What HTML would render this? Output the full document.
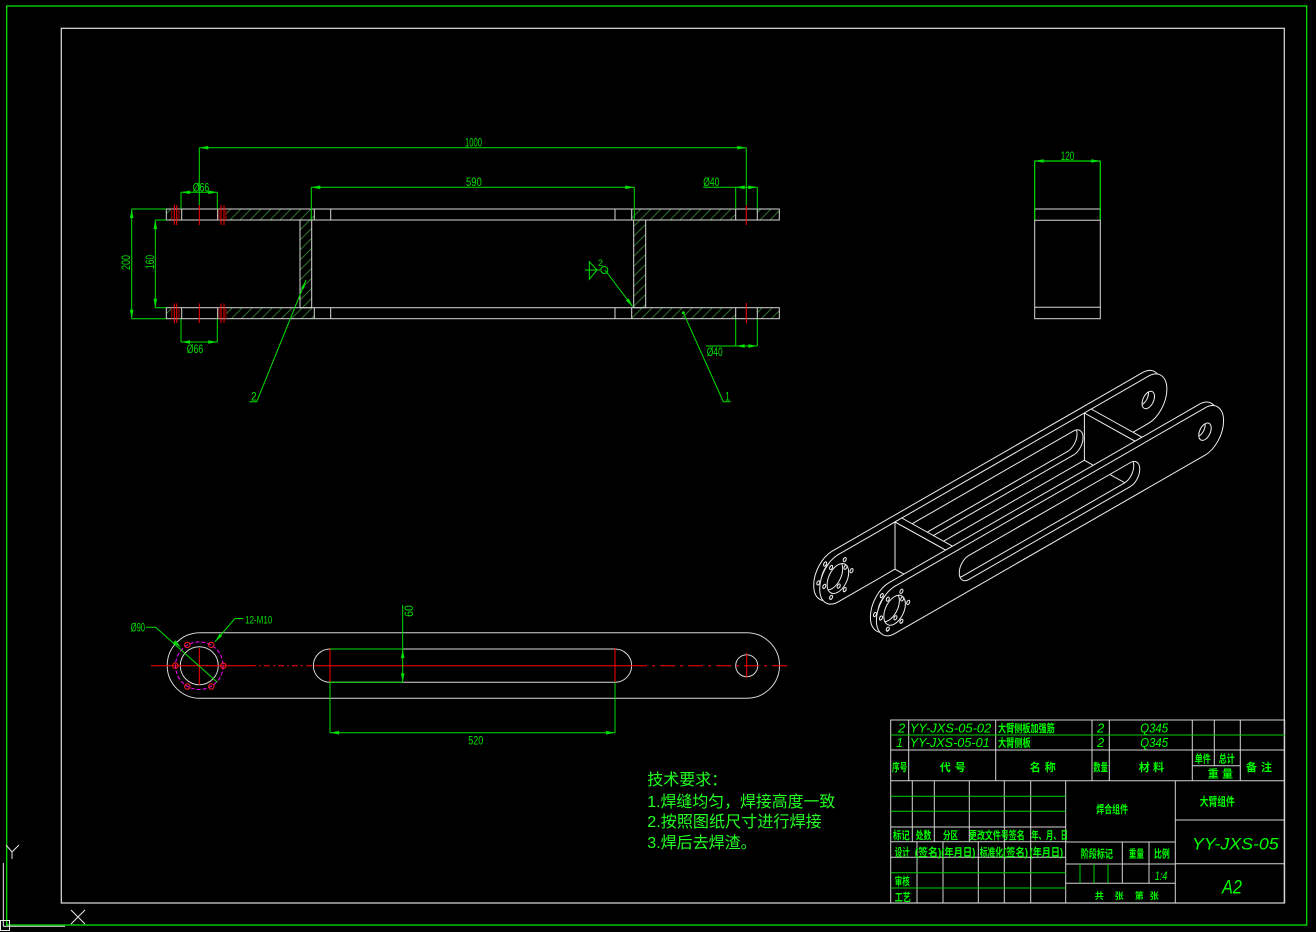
<!DOCTYPE html>
<html><head><meta charset="utf-8"><style>html,body{margin:0;padding:0;background:#000;}svg{display:block;}</style></head>
<body>
<svg width="1316" height="932" viewBox="0 0 1316 932" xmlns="http://www.w3.org/2000/svg" style="font-family:'Liberation Sans','Noto Sans CJK SC',sans-serif;">
<defs>
<pattern id="h" patternUnits="userSpaceOnUse" width="10" height="10">
<path d="M0,10 L10,0 M-2,2 L2,-2 M8,12 L12,8" stroke="#2f6f2f" stroke-width="1"/>
</pattern>
<path id="arm" fill="#000" fill-rule="evenodd" stroke="#eee" stroke-width="1" vector-effect="non-scaling-stroke" d="M200,632.7 H746.7 A32.8,32.8 0 0 1 746.7,698.3 H200 A32.8,32.8 0 0 1 200,632.7 Z M330,649 H615 A16.65,16.65 0 0 1 615,682.3 H330 A16.65,16.65 0 0 1 330,649 Z M180.3,665.7 A19,19 0 1 0 218.3,665.7 A19,19 0 1 0 180.3,665.7 Z M735.7,665.7 A11,11 0 1 0 757.7,665.7 A11,11 0 1 0 735.7,665.7 Z M172.6,665.7 A2.7,2.7 0 1 0 178,665.7 A2.7,2.7 0 1 0 172.6,665.7 Z M220.6,665.7 A2.7,2.7 0 1 0 226,665.7 A2.7,2.7 0 1 0 220.6,665.7 Z M184.6,644.9 A2.7,2.7 0 1 0 190,644.9 A2.7,2.7 0 1 0 184.6,644.9 Z M208.6,644.9 A2.7,2.7 0 1 0 214,644.9 A2.7,2.7 0 1 0 208.6,644.9 Z M184.6,686.5 A2.7,2.7 0 1 0 190,686.5 A2.7,2.7 0 1 0 184.6,686.5 Z M208.6,686.5 A2.7,2.7 0 1 0 214,686.5 A2.7,2.7 0 1 0 208.6,686.5 Z"/>
</defs>
<rect width="1316" height="932" fill="#000"/>

<!-- frames -->
<rect x="6.7" y="6" width="1300" height="919" fill="none" stroke="#00e000" stroke-width="1.3"/>
<rect x="61.3" y="28.3" width="1223" height="874.7" fill="none" stroke="#e0e0e0" stroke-width="1.2"/>

<!-- UCS icon -->
<g stroke="#e8e8e8" stroke-width="1" fill="none">
<line x1="3.3" y1="863" x2="3.3" y2="926"/>
<line x1="3" y1="926.3" x2="65" y2="926.3"/>
<rect x="0.5" y="920.5" width="9" height="10"/>
<path d="M6,845 L12,852 L19,845 M12,852 L12,859"/>
<path d="M71,910 L85,924 M85,910 L71,924"/>
</g>

<!-- ===== TOP VIEW ===== -->
<!-- hatch -->
<g fill="url(#h)">
<rect x="166.3" y="209" width="5" height="11"/>
<rect x="226" y="209" width="88.3" height="11"/>
<rect x="631.7" y="209" width="104" height="11"/>
<rect x="757.3" y="209" width="22" height="11"/>
<rect x="166.3" y="307.7" width="5" height="11"/>
<rect x="226" y="307.7" width="88.3" height="11"/>
<rect x="631.7" y="307.7" width="104" height="11"/>
<rect x="757.3" y="307.7" width="22" height="11"/>
<rect x="300" y="220" width="11.7" height="87.7"/>
<rect x="633.7" y="220" width="12" height="87.7"/>
</g>
<g stroke="#d8d8d8" stroke-width="1" fill="none">
<rect x="166.3" y="209" width="613" height="11"/>
<rect x="166.3" y="307.7" width="613" height="11"/>
<path d="M181.7,209V220M217.7,209V220M314.3,209V220M330.7,209V220M615,209V220M631.7,209V220M735.7,209V220M757.3,209V220"/>
<path d="M181.7,307.7V318.7M217.7,307.7V318.7M314.3,307.7V318.7M330.7,307.7V318.7M615,307.7V318.7M631.7,307.7V318.7M735.7,307.7V318.7M757.3,307.7V318.7"/>
<rect x="300" y="220" width="11.7" height="87.7"/>
<rect x="633.7" y="220" width="12" height="87.7"/>
</g>
<!-- red thread / center lines -->
<g stroke="#ff0000" stroke-width="1">
<path d="M174.3,205V225M176.7,205V225M199.3,205V225M221,205V225M224,205V225M746.3,205V225"/>
<path d="M174.3,303.5V323M176.7,303.5V323M199.3,303.5V323M221,303.5V323M224,303.5V323M746.3,303V323"/>
</g>
<g stroke="#a00000" stroke-width="1">
<path d="M171.7,209V220M179,209V220M219,209V220M226,209V220M171.7,307.7V318.7M179,307.7V318.7M219,307.7V318.7M226,307.7V318.7"/>
</g>
<!-- dims top view -->
<g stroke="#00e000" stroke-width="1" fill="none">
<path d="M199.3,147.7H746.3M199.3,147.7V205M746.3,147.7V205"/>
<path d="M311.3,187.3H634.3M311.3,187.3V220M634.3,187.3V220"/>
<path d="M181,192.3H217.3M181,192.3V209M217.3,192.3V209"/>
<path d="M703.3,187.3H757.3M735.7,187.3V209M757.3,187.3V209"/>
<path d="M706,346H757.3M735.7,318.7V346M757.3,318.7V346"/>
<path d="M181,342H217.3M181,318.7V342M217.3,318.7V342"/>
<path d="M131.7,209V318.7M131.7,209H166.3M131.7,318.7H166.3"/>
<path d="M155.3,220V307.7M155.3,220H166.3M155.3,307.7H166.3"/>
<path d="M306,280L256.7,401.7H249.3"/>
<path d="M683.3,312.7L723.3,401.7H730.7"/>
<path d="M585,270H600M589.3,261.7L597,270L589.3,279.3Z"/>
<circle cx="604.3" cy="270" r="3.5"/>
<path d="M605,270L632.7,306.7"/>
</g>
<g fill="#00e000">
<polygon points="199.3,147.7 208.3,145.9 208.3,149.5"/>
<polygon points="746.3,147.7 737.3,145.9 737.3,149.5"/>
<polygon points="311.3,187.3 320.3,185.5 320.3,189.1"/>
<polygon points="634.3,187.3 625.3,185.5 625.3,189.1"/>
<polygon points="181,192.3 190,190.5 190,194.1"/>
<polygon points="217.3,192.3 208.3,190.5 208.3,194.1"/>
<polygon points="735.7,187.3 744.7,185.5 744.7,189.1"/>
<polygon points="757.3,187.3 748.3,185.5 748.3,189.1"/>
<polygon points="735.7,346 744.7,344.2 744.7,347.8"/>
<polygon points="757.3,346 748.3,344.2 748.3,347.8"/>
<polygon points="181,342 190,340.2 190,343.8"/>
<polygon points="217.3,342 208.3,340.2 208.3,343.8"/>
<polygon points="131.7,209 129.9,218 133.5,218"/>
<polygon points="131.7,318.7 129.9,309.7 133.5,309.7"/>
<polygon points="155.3,220 153.5,229 157.1,229"/>
<polygon points="155.3,307.7 153.5,298.7 157.1,298.7"/>
<polygon points="306,280 304,288.9 301.2,287.7"/>
<circle cx="683.3" cy="312.7" r="1.5"/>
<polygon points="632.7,306.7 625.9,300.6 628.7,298.4"/>
</g>
<g fill="#00e000" font-size="11.5">
<text x="465" y="146.5" textLength="17" lengthAdjust="spacingAndGlyphs">1000</text>
<text x="466" y="186" textLength="15.7" lengthAdjust="spacingAndGlyphs">590</text>
<text x="192.7" y="191.5" textLength="16.6" lengthAdjust="spacingAndGlyphs">Ø66</text>
<text x="186.7" y="353" textLength="16.6" lengthAdjust="spacingAndGlyphs">Ø66</text>
<text x="703.3" y="186" textLength="16" lengthAdjust="spacingAndGlyphs">Ø40</text>
<text x="706.7" y="356" textLength="16" lengthAdjust="spacingAndGlyphs">Ø40</text>
<text transform="translate(130,262.5) rotate(-90)" text-anchor="middle" textLength="15" lengthAdjust="spacingAndGlyphs">200</text>
<text transform="translate(154,262) rotate(-90)" text-anchor="middle" textLength="14.3" lengthAdjust="spacingAndGlyphs">160</text>
<text x="251" y="400.7" textLength="5.7" lengthAdjust="spacingAndGlyphs">2</text>
<text x="725" y="400.7" textLength="5" lengthAdjust="spacingAndGlyphs">1</text>
<text x="598" y="266" font-size="9">2</text>
<text x="1060.7" y="160" textLength="13.6" lengthAdjust="spacingAndGlyphs">120</text>
</g>

<!-- ===== SIDE VIEW ===== -->
<g stroke="#d8d8d8" stroke-width="1" fill="none">
<rect x="1034.7" y="209" width="65.6" height="109.7"/>
<path d="M1034.7,220.3H1100.3M1034.7,307.3H1100.3"/>
</g>
<g stroke="#00e000" stroke-width="1.2" fill="none">
<path d="M1034.7,161H1100.3M1034.7,161V220M1100.3,161V220"/>
</g>
<g fill="#00e000">
<polygon points="1034.7,161 1043.7,159.2 1043.7,162.8"/>
<polygon points="1100.3,161 1091.3,159.2 1091.3,162.8"/>
</g>

<!-- ===== BOTTOM (FRONT) VIEW ===== -->
<g stroke="#d8d8d8" stroke-width="1" fill="none">
<path d="M200,632.7 H746.7 A32.8,32.8 0 0 1 746.7,698.3 H200 A32.8,32.8 0 0 1 200,632.7 Z"/>
<path d="M330,649 H615 A16.65,16.65 0 0 1 615,682.3 H330 A16.65,16.65 0 0 1 330,649 Z"/>
<circle cx="199.3" cy="665.7" r="19"/>
<circle cx="746.7" cy="665.7" r="11"/>
</g>
<circle cx="199.3" cy="665.7" r="23.8" fill="none" stroke="#ff00ff" stroke-width="1" stroke-dasharray="4 2"/>
<g stroke="#ff2020" stroke-width="1" fill="none">
<circle cx="175.3" cy="665.7" r="2.7"/>
<circle cx="223.3" cy="665.7" r="2.7"/>
<circle cx="187.3" cy="644.9" r="2.7"/>
<circle cx="211.3" cy="644.9" r="2.7"/>
<circle cx="187.3" cy="686.5" r="2.7"/>
<circle cx="211.3" cy="686.5" r="2.7"/>
</g>
<g stroke="#ff0000" stroke-width="1" fill="none">
<path d="M151,665.7H250"/>
<path d="M250,665.7H314" stroke-dasharray="6 3 2 3"/>
<path d="M314,665.7H632"/>
<path d="M632,665.7H787.7" stroke-dasharray="15 5 3 5"/>
<path d="M199.3,648V685M746.7,653V677.7M330,648V682.3M615,648V682.3"/>
</g>
<g stroke="#00e000" stroke-width="1" fill="none">
<path d="M402.7,605V682.3M330,649H402.7M330,682.3H402.7"/>
<path d="M330,732.7H615M330,682.3V732.7M615,682.3V732.7"/>
<path d="M146,627.3H155.7L217.3,682.3"/>
<path d="M235,618.5H243.3M235,618.5L215,641.7"/>
</g>
<g fill="#00e000">
<polygon points="402.7,649 400.9,658 404.5,658"/>
<polygon points="402.7,682.3 400.9,673.3 404.5,673.3"/>
<polygon points="330,732.7 339,730.9 339,734.5"/>
<polygon points="615,732.7 606,730.9 606,734.5"/>
<polygon points="181,647.5 175.5,640.2 173.1,642.8"/>
<polygon points="215,641.7 222.2,636 219.5,633.7"/>
</g>
<g fill="#00e000" font-size="11.5">
<text transform="translate(413,611) rotate(-90)" text-anchor="middle" textLength="11.7" lengthAdjust="spacingAndGlyphs">60</text>
<text x="468.3" y="744.3" textLength="15" lengthAdjust="spacingAndGlyphs">520</text>
<text x="130.7" y="631.7" textLength="14.3" lengthAdjust="spacingAndGlyphs">Ø90</text>
<text x="245" y="623.3" font-size="11" textLength="27.3" lengthAdjust="spacingAndGlyphs">12-M10</text>
</g>

<!-- ===== ISOMETRIC ===== -->
<use href="#arm" transform="matrix(0.567,-0.3261,0,0.72,718.9,160.7)"/>
<use href="#arm" transform="matrix(0.567,-0.3261,0,0.72,724.9,164.2)"/>
<g fill="#000" stroke="#eee" stroke-width="1" stroke-linejoin="round">
<polygon points="895,521.9 895,569.2 945.7,597.4 945.7,550.1"/>
<polygon points="895,521.9 901.8,518 952.5,546.2 945.7,550.1"/>
<polygon points="1084.4,413 1084.4,460.3 1135.1,488.5 1135.1,441.2"/>
<polygon points="1084.4,413 1091.2,409 1141.9,437.2 1135.1,441.2"/>
</g>
<use href="#arm" transform="matrix(0.567,-0.3261,0,0.72,775.6,192.4)"/>
<use href="#arm" transform="matrix(0.567,-0.3261,0,0.72,781.6,195.9)"/>

<!-- ===== TECH REQUIREMENTS ===== -->
<g fill="#22ff22" font-size="16">
<text x="647.3" y="785">技术要求：</text>
<text x="647.3" y="807" textLength="188" lengthAdjust="spacingAndGlyphs">1.焊缝均匀，焊接高度一致</text>
<text x="647.3" y="827" textLength="174.4" lengthAdjust="spacingAndGlyphs">2.按照图纸尺寸进行焊接</text>
<text x="647.3" y="848">3.焊后去焊渣。</text>
</g>

<!-- ===== TITLE BLOCK ===== -->
<g stroke="#d4d4d4" stroke-width="1" fill="none">
<rect x="890.7" y="720" width="394" height="183"/>
<path d="M890.7,750H1284.7M890.7,780.7H1284.7M1192.3,765.7H1240.3"/>
<path d="M908.7,720V780.7M995.7,720V780.7M1092,720V780.7M1109.3,720V780.7M1192.3,720V780.7M1240.3,720V780.7M1214.3,720V765.7"/>
<path d="M890.7,827H1065.7M890.7,841.7H1065.7M890.7,857.3H1065.7"/>
<path d="M912.3,780.7V841.7M934.3,780.7V841.7M969.3,780.7V841.7M1004.3,780.7V903M1030.7,780.7V903"/>
<path d="M917,841.7V903M943,841.7V903M978.3,841.7V903"/>
<path d="M1065.7,780.7V903M1175.3,780.7V903"/>
<path d="M1065.7,842H1175.3M1065.7,864H1175.3M1065.7,883.3H1175.3"/>
<path d="M1122.3,842V883.3M1149,842V883.3"/>
<path d="M1175.3,820H1284.7M1175.3,863.7H1284.7"/>
</g>
<g stroke="#00d000" stroke-width="1" fill="none">
<path d="M890.7,735H1284.7"/>
<path d="M890.7,796.3H1065.7M890.7,811.3H1065.7M890.7,872.7H1065.7M890.7,888H1065.7"/>
<path d="M1080,864V883.3M1094,864V883.3M1108,864V883.3"/>
</g>
<g fill="#00ff00" font-size="11" font-weight="bold">
<text x="898" y="732.5" font-size="13" font-style="italic" font-weight="normal">2</text>
<text x="909.7" y="732.5" font-size="13" font-style="italic" font-weight="normal" textLength="81.6" lengthAdjust="spacingAndGlyphs">YY-JXS-05-02</text>
<text x="998" y="731.9" textLength="56.7" lengthAdjust="spacingAndGlyphs">大臂侧板加强筋</text>
<text x="1097" y="732.5" font-size="13" font-style="italic" font-weight="normal">2</text>
<text x="1140.3" y="732.5" font-size="13" font-style="italic" font-weight="normal" textLength="27.7" lengthAdjust="spacingAndGlyphs">Q345</text>
<text x="896" y="747.2" font-size="13" font-style="italic" font-weight="normal">1</text>
<text x="909.7" y="747.2" font-size="13" font-style="italic" font-weight="normal" textLength="80" lengthAdjust="spacingAndGlyphs">YY-JXS-05-01</text>
<text x="998" y="746.5" textLength="32.7" lengthAdjust="spacingAndGlyphs">大臂侧板</text>
<text x="1097" y="747.2" font-size="13" font-style="italic" font-weight="normal">2</text>
<text x="1140.3" y="747.2" font-size="13" font-style="italic" font-weight="normal" textLength="27.7" lengthAdjust="spacingAndGlyphs">Q345</text>
<text x="892" y="770.9" textLength="15.3" lengthAdjust="spacingAndGlyphs">序号</text>
<text x="939.7" y="770.9">代</text><text x="954.7" y="770.9">号</text>
<text x="1029.7" y="770.9">名</text><text x="1044.7" y="770.9">称</text>
<text x="1093.3" y="770.9" textLength="14.7" lengthAdjust="spacingAndGlyphs">数量</text>
<text x="1138.7" y="770.9">材</text><text x="1153" y="770.9">料</text>
<text x="1194.7" y="762.5" textLength="16" lengthAdjust="spacingAndGlyphs">单件</text>
<text x="1218.7" y="762.5" textLength="16" lengthAdjust="spacingAndGlyphs">总计</text>
<text x="1207.7" y="777.5">重</text><text x="1222" y="777.5">量</text>
<text x="1246" y="770.9">备</text><text x="1261" y="770.9">注</text>
<text x="1096.3" y="813.2" textLength="31.7" lengthAdjust="spacingAndGlyphs">焊合组件</text>
<text x="1199.7" y="805.4" font-size="11.5" textLength="35" lengthAdjust="spacingAndGlyphs">大臂组件</text>
<text x="1192" y="849.4" font-size="17" font-style="italic" font-weight="normal" textLength="86.7" lengthAdjust="spacingAndGlyphs">YY-JXS-05</text>
<text x="1222" y="893.5" font-size="19" font-style="italic" font-weight="normal" textLength="20" lengthAdjust="spacingAndGlyphs">A2</text>
<text x="893" y="839.2" textLength="16.7" lengthAdjust="spacingAndGlyphs">标记</text>
<text x="915.7" y="839.2" textLength="15.6" lengthAdjust="spacingAndGlyphs">处数</text>
<text x="943" y="839.2" textLength="15" lengthAdjust="spacingAndGlyphs">分区</text>
<text x="969" y="839.2" textLength="55.7" lengthAdjust="spacingAndGlyphs">更改文件号签名</text>
<text x="1031.3" y="839.2" textLength="36.7" lengthAdjust="spacingAndGlyphs">年、月、日</text>
<text x="894.7" y="855.9" textLength="15" lengthAdjust="spacingAndGlyphs">设计</text>
<text x="914.7" y="855.9" textLength="26.6" lengthAdjust="spacingAndGlyphs">(签名)</text>
<text x="941.3" y="855.9" textLength="34" lengthAdjust="spacingAndGlyphs">(年月日)</text>
<text x="979.7" y="855.9" textLength="23.3" lengthAdjust="spacingAndGlyphs">标准化</text>
<text x="1003" y="855.9" textLength="25" lengthAdjust="spacingAndGlyphs">(签名)</text>
<text x="1029.7" y="855.9" textLength="33.3" lengthAdjust="spacingAndGlyphs">(年月日)</text>
<text x="1080.7" y="857.5" textLength="32.3" lengthAdjust="spacingAndGlyphs">阶段标记</text>
<text x="1128.7" y="857.5" textLength="15.3" lengthAdjust="spacingAndGlyphs">重量</text>
<text x="1154" y="857.5" textLength="15.7" lengthAdjust="spacingAndGlyphs">比例</text>
<text x="1154.7" y="880" font-size="12" font-style="italic" font-weight="normal" textLength="12.6" lengthAdjust="spacingAndGlyphs">1:4</text>
<text x="894.7" y="884.9" textLength="15" lengthAdjust="spacingAndGlyphs">审核</text>
<text x="894.7" y="900.9" textLength="16" lengthAdjust="spacingAndGlyphs">工艺</text>
<text x="1094.7" y="899.2" font-size="9">共</text>
<text x="1114.7" y="899.2" font-size="9">张</text>
<text x="1134.7" y="899.2" font-size="9">第</text>
<text x="1149.7" y="899.2" font-size="9">张</text>
</g>
</svg>
</body></html>
